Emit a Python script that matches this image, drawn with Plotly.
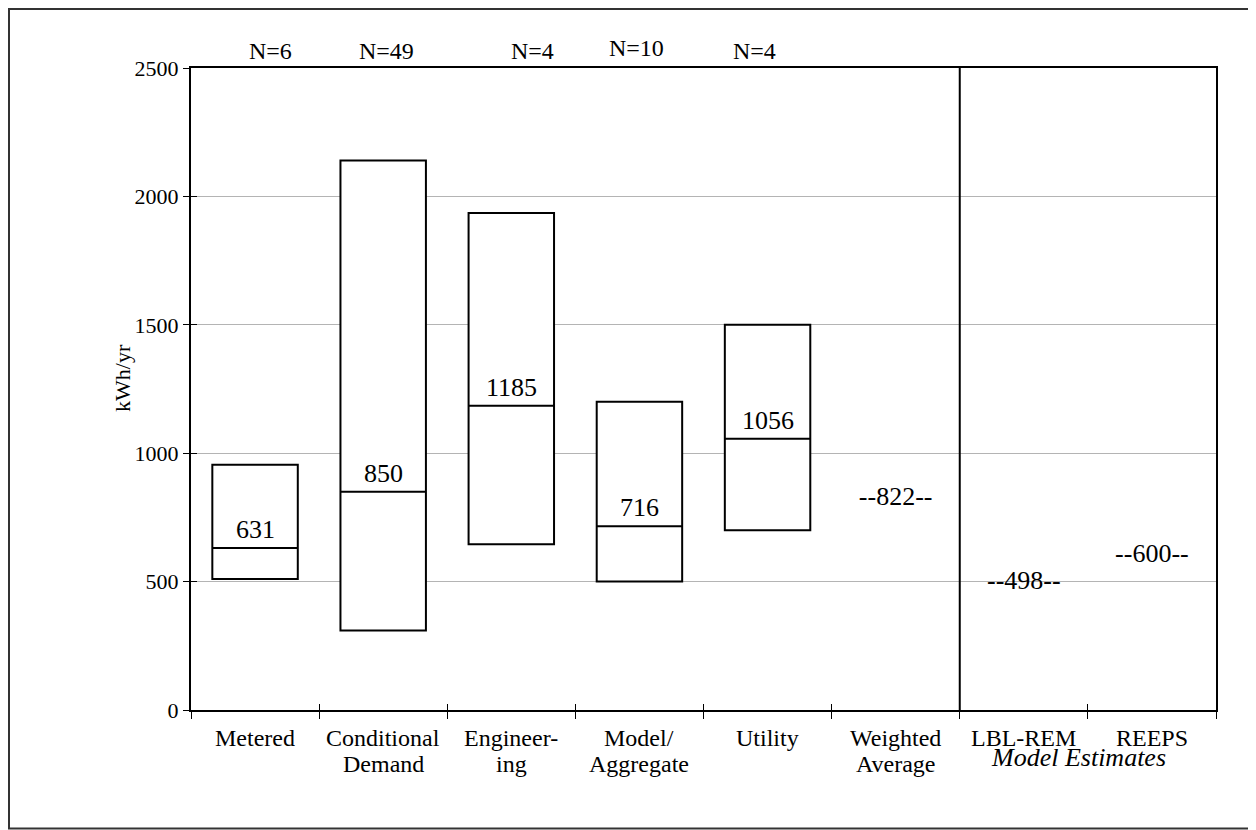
import plotly.graph_objects as go
import numpy as np

# ---- data ----
categories = ["Metered", "Conditional<br>Demand", "Engineer-<br>ing", "Model/<br>Aggregate",
              "Utility", "Weighted<br>Average", "LBL-REM", "REEPS"]
box_categories = categories[:5]
box_low = [510, 310, 645, 500, 700]
box_median = [631, 850, 1185, 716, 1056]
box_high = [955, 2140, 1935, 1200, 1500]
n_labels = ["N=6", "N=49", "N=4", "N=10", "N=4"]
point_categories = ["Weighted<br>Average", "LBL-REM", "REEPS"]
point_values = [822, 498, 600]
y_ticks = [0, 500, 1000, 1500, 2000, 2500]

FONT = "Liberation Serif"

# figure geometry (page has an 8px body margin)
W, H = 1248, 822
L, R, T, B = 183, 40, 60, 120
PW, PH = W - L - R, H - T - B


def px(fx):
    return (fx - L) / PW


def py(fy):
    return (H - B - fy) / PH


fig = go.Figure()

fig.add_trace(go.Box(
    x=box_categories, q1=box_low, median=box_median, q3=box_high,
    lowerfence=box_low, upperfence=box_high,
    width=0.667, whiskerwidth=0, fillcolor="white",
    line=dict(color="black", width=2), boxpoints=False,
    hoverinfo="skip", showlegend=False,
))

fig.add_trace(go.Scatter(
    x=point_categories, y=point_values, mode="text",
    text=["--%d--" % v for v in point_values],
    textposition="middle center",
    textfont=dict(family=FONT, size=26, color="black"),
    showlegend=False, hoverinfo="skip",
))

# dummy trace for inner-tick overlay axes
fig.add_trace(go.Scatter(x=[0], y=[0], xaxis="x2", yaxis="y2", mode="markers",
                         marker=dict(opacity=0), showlegend=False, hoverinfo="skip"))

annotations = []
for c, m in zip(box_categories, box_median):
    annotations.append(dict(x=c, y=m, xref="x", yref="y", text=str(m), showarrow=False,
                            yanchor="bottom", yshift=2,
                            font=dict(family=FONT, size=26, color="black")))

n_shift = [15, 3, 21, -3, -13]
n_yshift = [0, 0, 0, 3, 0]
for c, t, dx, dy in zip(box_categories, n_labels, n_shift, n_yshift):
    annotations.append(dict(x=c, y=1.0, xref="x", yref="paper", text=t, showarrow=False,
                            yanchor="bottom", yshift=2 + dy, xshift=dx,
                            font=dict(family=FONT, size=24, color="black")))

# category labels (two lines, tight line spacing)
for c in categories:
    lines = c.split("<br>")
    for k, line in enumerate(lines):
        annotations.append(dict(x=c, y=py(730 + 26 * k), xref="x", yref="paper", text=line,
                                showarrow=False, yanchor="middle",
                                font=dict(family=FONT, size=24, color="black")))

annotations.append(dict(x=6.5, y=py(749), xref="x2", yref="paper", text="<i>Model Estimates</i>",
                        showarrow=False, xshift=-9, yanchor="middle",
                        font=dict(family=FONT, size=26, color="black")))

annotations.append(dict(x=px(114), y=py(370), xref="paper", yref="paper", text="kWh/yr",
                        showarrow=False, textangle=-90, xanchor="center", yanchor="middle",
                        font=dict(family=FONT, size=22, color="black")))

shapes = [
    # separator between survey estimates and model estimates
    dict(type="line", xref="x2", yref="y", x0=5.5, x1=5.5, y0=0, y1=2510,
         line=dict(color="black", width=2)),
    # outer frame
    dict(type="rect", xref="paper", yref="paper",
         x0=px(1), x1=px(1243), y0=py(820.5), y1=py(1),
         line=dict(color="#333333", width=2), layer="below"),
]

fig.update_layout(
    width=W, height=H,
    margin=dict(l=L, r=R, t=T, b=B),
    paper_bgcolor="white", plot_bgcolor="white",
    font=dict(family=FONT, size=22, color="black"),
    showlegend=False,
    xaxis=dict(type="category", categoryorder="array", categoryarray=categories,
               range=[-0.5, 7.5], tickson="boundaries", ticks="outside", ticklen=7,
               tickwidth=1, tickcolor="black", showline=True, linecolor="black",
               linewidth=2, mirror=True, showgrid=False, zeroline=False,
               showticklabels=False),
    xaxis2=dict(overlaying="x", range=[-0.5, 7.5], tickvals=list(np.arange(-0.5, 8, 1.0)),
                ticks="inside", ticklen=6, tickwidth=1, tickcolor="black",
                showticklabels=False, showgrid=False, zeroline=False, showline=False,
                side="bottom"),
    yaxis=dict(range=[0, 2500], tickvals=y_ticks, ticks="outside", ticklen=6,
               tickwidth=1, tickcolor="black", showline=True, linecolor="black",
               linewidth=2, mirror=True, showgrid=True, gridcolor="#b4b4b4", gridwidth=1,
               zeroline=False, tickfont=dict(family=FONT, size=22, color="black")),
    yaxis2=dict(overlaying="y", range=[0, 2500], tickvals=y_ticks, ticks="inside",
                ticklen=6, tickwidth=1, tickcolor="black", showticklabels=False,
                showgrid=False, zeroline=False, showline=False, side="left"),
    annotations=annotations,
    shapes=shapes,
)

fig.write_html("out.html")
